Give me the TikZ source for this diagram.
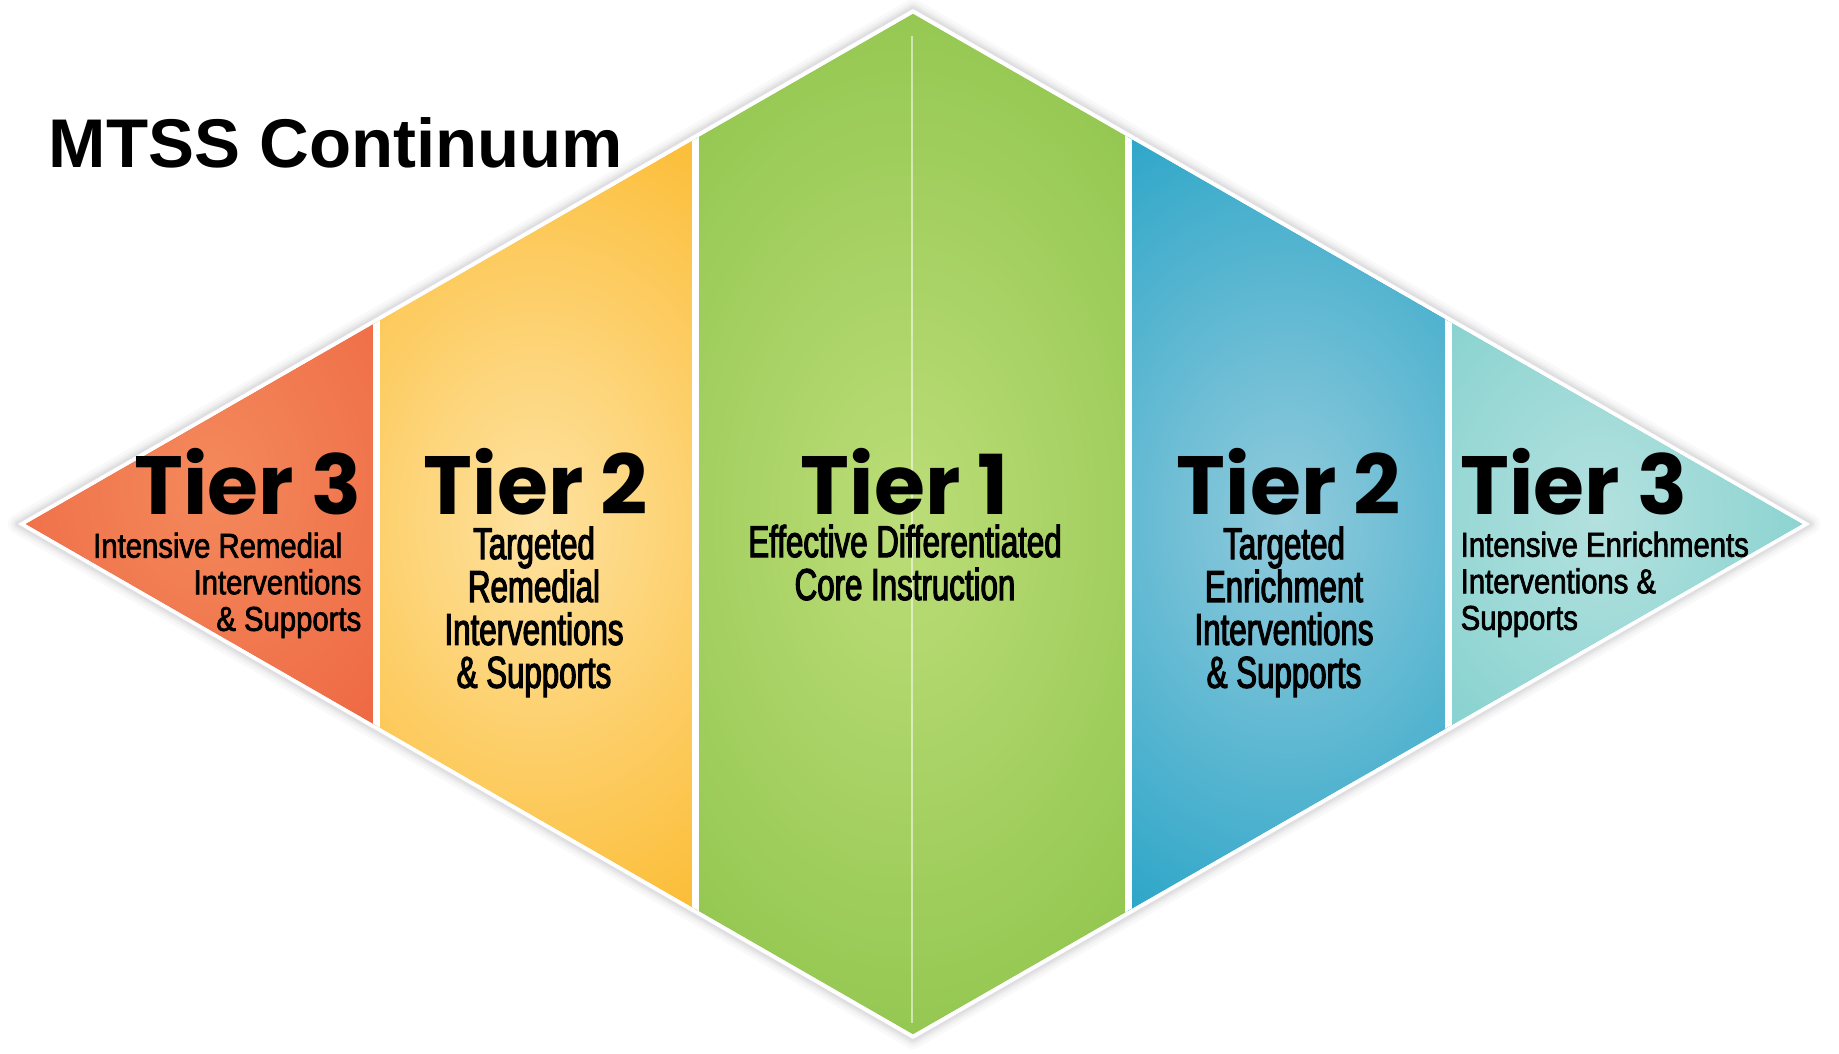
\documentclass[tikz,border=0pt]{standalone}
\usepackage{fontspec}
\setmainfont{Liberation Sans}
\newfontfamily\tierfont{Poppins}
\newfontfamily\subnarrow{Liberation Sans}[FakeStretch=0.70,FakeBold=2.5]
\newfontfamily\subwide{Liberation Sans}[FakeStretch=0.85,FakeBold=2]

\definecolor{redE}{HTML}{E8482A}
\definecolor{redG}{HTML}{F4895C}
\definecolor{orangeE}{HTML}{FBB31A}
\definecolor{orangeG}{HTML}{FEE2A0}
\definecolor{greenE}{HTML}{7DBB3B}
\definecolor{greenG}{HTML}{BCDD78}
\definecolor{blueE}{HTML}{129CC3}
\definecolor{blueG}{HTML}{92CBDC}
\definecolor{tealE}{HTML}{5CC3BF}
\definecolor{tealG}{HTML}{B3E1DF}
\definecolor{shadowgray}{HTML}{9A9AA2}

\begin{document}
\begin{tikzpicture}[x=0.01cm,y=-0.01cm,
    heading/.style={inner sep=0pt,font=\tierfont\bfseries\fontsize{23.5}{24}\selectfont},
    subbig/.style={inner sep=0pt,font=\subnarrow\fontsize{12.7}{12.2}\selectfont},
    subsmall/.style={inner sep=0pt,font=\subwide\fontsize{9.8}{10.4}\selectfont},
    gap/.style={white,line width=0.065cm}]
  \useasboundingbox (0,0) rectangle (1839,1053);

  % outline of the diamond
  \coordinate (west) at (18,524);
  \coordinate (north) at (913,9);
  \coordinate (east) at (1810,524);
  \coordinate (south) at (913,1039);
  % inner edge, inside the white rim
  \coordinate (iwest) at (26,524);
  \coordinate (inorth) at (913,14);
  \coordinate (ieast) at (1802,524);
  \coordinate (isouth) at (913,1034);

  % soft shadow
  \foreach \w/\o in {0.20cm/0.06,0.14cm/0.08,0.09cm/0.10,0.05cm/0.12}
    \draw[shadowgray,opacity=\o,line width=\w,line join=round,shift={(2,4)}]
      (west) -- (north) -- (east) -- (south) -- cycle;
  \fill[white] (west) -- (north) -- (east) -- (south) -- cycle;

  \begin{scope}
    \clip (iwest) -- (inorth) -- (ieast) -- (isouth) -- cycle;
    \foreach \xa/\xb/\edge/\glow/\cx/\cy/\rx/\ry in {
        0/377/redE/redG/210/480/520/640,
        376/696/orangeE/orangeG/536/520/420/560,
        695/1129/greenE/greenG/905/520/520/820,
        1128/1449/blueE/blueG/1286/520/420/560,
        1448/1839/tealE/tealG/1600/515/460/560}
    {
      \begin{scope}
        \clip (\xa,0) rectangle (\xb,1053);
        \fill[\edge] (\xa,0) rectangle (\xb,1053);
        \shade[inner color=\glow,outer color=\edge]
          (\cx-\rx,\cy-\ry) rectangle (\cx+\rx,\cy+\ry);
      \end{scope}
    }
    \foreach \x in {376.5,695.5,1128.5,1448.5}
      \draw[gap] (\x,0) -- (\x,1053);
    \draw[white,opacity=0.55,line width=0.02cm] (912,36) -- (912,1023);
  \end{scope}

  \node[anchor=base west,inner sep=0pt,font=\bfseries\fontsize{19.6}{20}\selectfont]
    (title) at (48,167) {MTSS Continuum};

  % remedial side
  \node[heading,anchor=base east] (remthreehead) at (362,514) {Tier 3};
  \node[subsmall,align=right,anchor=north east] (remthreetext) at (362,532)
    {Intensive Remedial\hspace*{5.4pt}\\Interventions\hspace*{2.6pt}\\\& Supports};
  \node[heading,anchor=base] (remtwohead) at (536,514) {Tier 2};
  \node[subbig,align=center,anchor=north] (remtwotext) at (534,526)
    {Targeted\\Remedial\\Interventions\\\& Supports};

  % core
  \node[heading,anchor=base] (corehead) at (905,514) {Tier 1};
  \node[subbig,align=center,anchor=north] (coretext) at (905,524)
    {Effective Differentiated\\Core Instruction};

  % enrichment side
  \node[heading,anchor=base] (enrtwohead) at (1289,514) {Tier 2};
  \node[subbig,align=center,anchor=north] (enrtwotext) at (1284,526)
    {Targeted\\Enrichment\\Interventions\\\& Supports};
  \node[heading,anchor=base west] (enrthreehead) at (1460,514) {Tier 3};
  \node[subsmall,align=left,anchor=north west] (enrthreetext) at (1460,531)
    {Intensive Enrichments\\Interventions \&\\Supports};
\end{tikzpicture}
\end{document}
